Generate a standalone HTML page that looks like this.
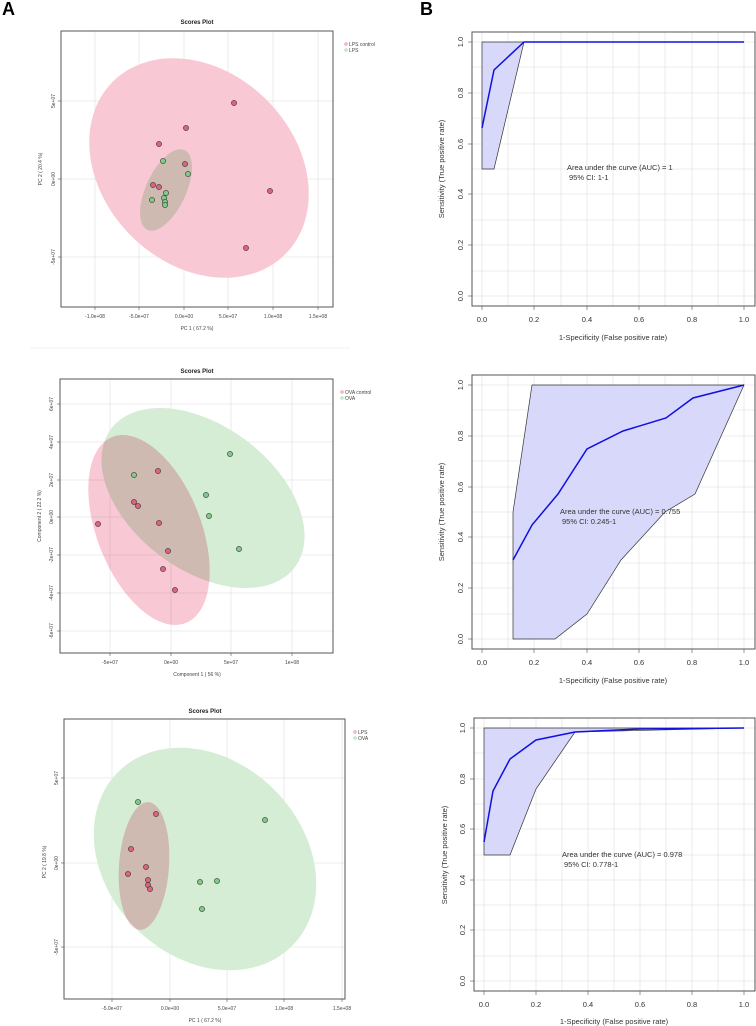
<!DOCTYPE html>
<html><head><meta charset="utf-8"><style>
html,body{margin:0;padding:0;background:#fff;}
svg{display:block;font-family:"Liberation Sans",sans-serif;}
.g{stroke:#e6e6e6;stroke-width:0.8;fill:none}
.box{fill:none;stroke:#555;stroke-width:1}
.t{font-size:5px;fill:#444}
.rt{font-size:7.5px;fill:#333}
.ptp{fill:#e0627f;stroke:#333;stroke-width:0.6}
.ptg{fill:#7fcb88;stroke:#333;stroke-width:0.6}
.ci{fill:#d8d8fa;stroke:#333;stroke-width:0.7}
.cv{fill:none;stroke:#1010e0;stroke-width:1.5}
</style></head><body>
<svg width="756" height="1026" viewBox="0 0 756 1026">
<rect width="756" height="1026" fill="#fff"/>
<text x="2" y="15" font-size="18" font-weight="bold">A</text>
<text x="420" y="15" font-size="18" font-weight="bold">B</text>
<line x1="30" y1="348" x2="350" y2="348" stroke="#eee" stroke-width="0.8"/>

<!-- ===== A1 ===== -->
<g>
<text x="197" y="24" font-size="6" font-weight="bold" text-anchor="middle" fill="#222">Scores Plot</text>
<g class="g">
<line x1="95" y1="31" x2="95" y2="307"/><line x1="139" y1="31" x2="139" y2="307"/><line x1="184" y1="31" x2="184" y2="307"/><line x1="228" y1="31" x2="228" y2="307"/><line x1="273" y1="31" x2="273" y2="307"/><line x1="318" y1="31" x2="318" y2="307"/>
<line x1="61" y1="101" x2="333" y2="101"/><line x1="61" y1="179" x2="333" y2="179"/><line x1="61" y1="257" x2="333" y2="257"/>
</g>
<ellipse cx="199" cy="168" rx="122" ry="96" transform="rotate(45 199 168)" fill="#f8c9d5"/>
<ellipse cx="166" cy="190" rx="44" ry="20" transform="rotate(-65 166 190)" fill="#d5ecd5" style="mix-blend-mode:multiply"/>
<g class="ptp"><circle cx="234" cy="103" r="2.6"/><circle cx="186" cy="128" r="2.6"/><circle cx="159" cy="144" r="2.6"/><circle cx="185" cy="164" r="2.6"/><circle cx="153" cy="185" r="2.6"/><circle cx="159" cy="187" r="2.6"/><circle cx="270" cy="191" r="2.6"/><circle cx="246" cy="248" r="2.6"/></g>
<g class="ptg"><circle cx="163" cy="161" r="2.6"/><circle cx="188" cy="174" r="2.6"/><circle cx="166" cy="193" r="2.6"/><circle cx="152" cy="200" r="2.6"/><circle cx="164" cy="198" r="2.6"/><circle cx="165" cy="202" r="2.6"/><circle cx="165" cy="205" r="2.6"/></g>
<rect class="box" x="61" y="31" width="272" height="276"/>
<g stroke="#555" stroke-width="0.6"><line x1="95" y1="307" x2="95" y2="310"/><line x1="139" y1="307" x2="139" y2="310"/><line x1="184" y1="307" x2="184" y2="310"/><line x1="228" y1="307" x2="228" y2="310"/><line x1="273" y1="307" x2="273" y2="310"/><line x1="318" y1="307" x2="318" y2="310"/><line x1="58" y1="101" x2="61" y2="101"/><line x1="58" y1="179" x2="61" y2="179"/><line x1="58" y1="257" x2="61" y2="257"/></g>
<g class="t" text-anchor="middle"><text x="95" y="318">-1.0e+08</text><text x="139" y="318">-5.0e+07</text><text x="184" y="318">0.0e+00</text><text x="228" y="318">5.0e+07</text><text x="273" y="318">1.0e+08</text><text x="318" y="318">1.5e+08</text>
<text x="197" y="330">PC 1 ( 67.2 %)</text>
<text transform="translate(55 101) rotate(-90)">5e+07</text><text transform="translate(55 179) rotate(-90)">0e+00</text><text transform="translate(55 257) rotate(-90)">-5e+07</text>
<text transform="translate(42 169) rotate(-90)">PC 2 ( 20.4 %)</text></g>
<circle cx="346" cy="44" r="1.2" fill="none" stroke="#e0627f" stroke-width="0.6"/><circle cx="346" cy="50" r="1.2" fill="none" stroke="#7fcb88" stroke-width="0.6"/>
<text class="t" x="349" y="46">LPS control</text><text class="t" x="349" y="52">LPS</text>
</g>

<!-- ===== A2 ===== -->
<g>
<text x="197" y="373" font-size="6" font-weight="bold" text-anchor="middle" fill="#222">Scores Plot</text>
<g class="g">
<line x1="110" y1="379" x2="110" y2="653"/><line x1="171" y1="379" x2="171" y2="653"/><line x1="231" y1="379" x2="231" y2="653"/><line x1="292" y1="379" x2="292" y2="653"/>
<line x1="60" y1="404" x2="333" y2="404"/><line x1="60" y1="442" x2="333" y2="442"/><line x1="60" y1="480" x2="333" y2="480"/><line x1="60" y1="517" x2="333" y2="517"/><line x1="60" y1="555" x2="333" y2="555"/><line x1="60" y1="593" x2="333" y2="593"/><line x1="60" y1="631" x2="333" y2="631"/>
</g>
<ellipse cx="203" cy="498" rx="115" ry="72" transform="rotate(37 203 498)" fill="#d5ecd5"/>
<ellipse cx="149" cy="530" rx="100" ry="52" transform="rotate(68.5 149 530)" fill="#f8c9d5" style="mix-blend-mode:multiply"/>
<g class="ptg"><circle cx="230" cy="454" r="2.6"/><circle cx="134" cy="475" r="2.6"/><circle cx="206" cy="495" r="2.6"/><circle cx="209" cy="516" r="2.6"/><circle cx="239" cy="549" r="2.6"/></g>
<g class="ptp"><circle cx="158" cy="471" r="2.6"/><circle cx="134" cy="502" r="2.6"/><circle cx="138" cy="506" r="2.6"/><circle cx="159" cy="523" r="2.6"/><circle cx="98" cy="524" r="2.6"/><circle cx="168" cy="551" r="2.6"/><circle cx="163" cy="569" r="2.6"/><circle cx="175" cy="590" r="2.6"/></g>
<rect class="box" x="60" y="379" width="273" height="274"/>
<g stroke="#555" stroke-width="0.6"><line x1="110" y1="653" x2="110" y2="656"/><line x1="171" y1="653" x2="171" y2="656"/><line x1="231" y1="653" x2="231" y2="656"/><line x1="292" y1="653" x2="292" y2="656"/><line x1="57" y1="404" x2="60" y2="404"/><line x1="57" y1="442" x2="60" y2="442"/><line x1="57" y1="480" x2="60" y2="480"/><line x1="57" y1="517" x2="60" y2="517"/><line x1="57" y1="555" x2="60" y2="555"/><line x1="57" y1="593" x2="60" y2="593"/><line x1="57" y1="631" x2="60" y2="631"/></g>
<g class="t" text-anchor="middle"><text x="110" y="664">-5e+07</text><text x="171" y="664">0e+00</text><text x="231" y="664">5e+07</text><text x="292" y="664">1e+08</text>
<text x="197" y="676">Component 1 ( 56 %)</text>
<text transform="translate(53 404) rotate(-90)">6e+07</text><text transform="translate(53 442) rotate(-90)">4e+07</text><text transform="translate(53 480) rotate(-90)">2e+07</text><text transform="translate(53 517) rotate(-90)">0e+00</text><text transform="translate(53 555) rotate(-90)">-2e+07</text><text transform="translate(53 593) rotate(-90)">-4e+07</text><text transform="translate(53 631) rotate(-90)">-6e+07</text>
<text transform="translate(41 516) rotate(-90)">Component 2 ( 22.2 %)</text></g>
<circle cx="342" cy="392" r="1.2" fill="none" stroke="#e0627f" stroke-width="0.6"/><circle cx="342" cy="398" r="1.2" fill="none" stroke="#7fcb88" stroke-width="0.6"/>
<text class="t" x="345" y="394">OVA control</text><text class="t" x="345" y="400">OVA</text>
</g>

<!-- ===== A3 ===== -->
<g>
<text x="205" y="713" font-size="6" font-weight="bold" text-anchor="middle" fill="#222">Scores Plot</text>
<g class="g">
<line x1="112" y1="719" x2="112" y2="999"/><line x1="170" y1="719" x2="170" y2="999"/><line x1="227" y1="719" x2="227" y2="999"/><line x1="284" y1="719" x2="284" y2="999"/><line x1="342" y1="719" x2="342" y2="999"/>
<line x1="64" y1="778" x2="345" y2="778"/><line x1="64" y1="863" x2="345" y2="863"/><line x1="64" y1="947" x2="345" y2="947"/>
</g>
<ellipse cx="205" cy="859" rx="123" ry="98" transform="rotate(45 205 859)" fill="#d5ecd5"/>
<ellipse cx="144" cy="866" rx="64" ry="25" transform="rotate(-86 144 866)" fill="#f8c9d5" style="mix-blend-mode:multiply"/>
<g class="ptg"><circle cx="138" cy="802" r="2.6"/><circle cx="265" cy="820" r="2.6"/><circle cx="200" cy="882" r="2.6"/><circle cx="217" cy="881" r="2.6"/><circle cx="202" cy="909" r="2.6"/></g>
<g class="ptp"><circle cx="156" cy="814" r="2.6"/><circle cx="131" cy="849" r="2.6"/><circle cx="146" cy="867" r="2.6"/><circle cx="128" cy="874" r="2.6"/><circle cx="148" cy="880" r="2.6"/><circle cx="148" cy="885" r="2.6"/><circle cx="150" cy="889" r="2.6"/></g>
<rect class="box" x="64" y="719" width="281" height="280"/>
<g stroke="#555" stroke-width="0.6"><line x1="112" y1="999" x2="112" y2="1002"/><line x1="170" y1="999" x2="170" y2="1002"/><line x1="227" y1="999" x2="227" y2="1002"/><line x1="284" y1="999" x2="284" y2="1002"/><line x1="342" y1="999" x2="342" y2="1002"/><line x1="61" y1="778" x2="64" y2="778"/><line x1="61" y1="863" x2="64" y2="863"/><line x1="61" y1="947" x2="64" y2="947"/></g>
<g class="t" text-anchor="middle"><text x="112" y="1010">-5.0e+07</text><text x="170" y="1010">0.0e+00</text><text x="227" y="1010">5.0e+07</text><text x="284" y="1010">1.0e+08</text><text x="342" y="1010">1.5e+08</text>
<text x="205" y="1022">PC 1 ( 67.2 %)</text>
<text transform="translate(58 778) rotate(-90)">5e+07</text><text transform="translate(58 863) rotate(-90)">0e+00</text><text transform="translate(58 947) rotate(-90)">-5e+07</text>
<text transform="translate(46 862) rotate(-90)">PC 2 ( 19.8 %)</text></g>
<circle cx="355" cy="732" r="1.2" fill="none" stroke="#e0627f" stroke-width="0.6"/><circle cx="355" cy="738" r="1.2" fill="none" stroke="#7fcb88" stroke-width="0.6"/>
<text class="t" x="358" y="734">LPS</text><text class="t" x="358" y="740">OVA</text>
</g>

<!-- ===== B1 ===== -->
<g>
<g class="g">
<line x1="482" y1="32" x2="482" y2="306"/><line x1="508" y1="32" x2="508" y2="306"/><line x1="534" y1="32" x2="534" y2="306"/><line x1="561" y1="32" x2="561" y2="306"/><line x1="587" y1="32" x2="587" y2="306"/><line x1="613" y1="32" x2="613" y2="306"/><line x1="639" y1="32" x2="639" y2="306"/><line x1="665" y1="32" x2="665" y2="306"/><line x1="692" y1="32" x2="692" y2="306"/><line x1="718" y1="32" x2="718" y2="306"/><line x1="744" y1="32" x2="744" y2="306"/>
<line x1="472" y1="42" x2="755" y2="42"/><line x1="472" y1="67" x2="755" y2="67"/><line x1="472" y1="93" x2="755" y2="93"/><line x1="472" y1="118" x2="755" y2="118"/><line x1="472" y1="144" x2="755" y2="144"/><line x1="472" y1="169" x2="755" y2="169"/><line x1="472" y1="194" x2="755" y2="194"/><line x1="472" y1="220" x2="755" y2="220"/><line x1="472" y1="245" x2="755" y2="245"/><line x1="472" y1="271" x2="755" y2="271"/><line x1="472" y1="296" x2="755" y2="296"/>
</g>
<polygon class="ci" points="482,42 524,42 494,169 482,169"/>
<line x1="524" y1="42" x2="744" y2="42" stroke="#333" stroke-width="0.7"/>
<polyline class="cv" points="482,128 494,70 524,42 744,42"/>
<text class="rt" x="567" y="170">Area under the curve (AUC) = 1</text>
<text class="rt" x="569" y="180">95% CI: 1-1</text>
<rect class="box" x="472" y="32" width="283" height="274"/>
<g stroke="#555" stroke-width="0.6"><line x1="482" y1="306" x2="482" y2="310"/><line x1="534" y1="306" x2="534" y2="310"/><line x1="587" y1="306" x2="587" y2="310"/><line x1="639" y1="306" x2="639" y2="310"/><line x1="692" y1="306" x2="692" y2="310"/><line x1="744" y1="306" x2="744" y2="310"/><line x1="468" y1="42" x2="472" y2="42"/><line x1="468" y1="93" x2="472" y2="93"/><line x1="468" y1="144" x2="472" y2="144"/><line x1="468" y1="194" x2="472" y2="194"/><line x1="468" y1="245" x2="472" y2="245"/><line x1="468" y1="296" x2="472" y2="296"/></g>
<g class="rt" text-anchor="middle"><text x="482" y="322">0.0</text><text x="534" y="322">0.2</text><text x="587" y="322">0.4</text><text x="639" y="322">0.6</text><text x="692" y="322">0.8</text><text x="744" y="322">1.0</text>
<text x="613" y="340">1-Specificity (False positive rate)</text>
<text transform="translate(463 42) rotate(-90)">1.0</text><text transform="translate(463 93) rotate(-90)">0.8</text><text transform="translate(463 144) rotate(-90)">0.6</text><text transform="translate(463 194) rotate(-90)">0.4</text><text transform="translate(463 245) rotate(-90)">0.2</text><text transform="translate(463 296) rotate(-90)">0.0</text>
<text transform="translate(444 169) rotate(-90)">Sensitivity (True positive rate)</text></g>
</g>

<!-- ===== B2 ===== -->
<g>
<g class="g">
<line x1="482" y1="375" x2="482" y2="649"/><line x1="508" y1="375" x2="508" y2="649"/><line x1="534" y1="375" x2="534" y2="649"/><line x1="561" y1="375" x2="561" y2="649"/><line x1="587" y1="375" x2="587" y2="649"/><line x1="613" y1="375" x2="613" y2="649"/><line x1="639" y1="375" x2="639" y2="649"/><line x1="665" y1="375" x2="665" y2="649"/><line x1="692" y1="375" x2="692" y2="649"/><line x1="718" y1="375" x2="718" y2="649"/><line x1="744" y1="375" x2="744" y2="649"/>
<line x1="472" y1="385" x2="755" y2="385"/><line x1="472" y1="410" x2="755" y2="410"/><line x1="472" y1="436" x2="755" y2="436"/><line x1="472" y1="461" x2="755" y2="461"/><line x1="472" y1="487" x2="755" y2="487"/><line x1="472" y1="512" x2="755" y2="512"/><line x1="472" y1="537" x2="755" y2="537"/><line x1="472" y1="563" x2="755" y2="563"/><line x1="472" y1="588" x2="755" y2="588"/><line x1="472" y1="614" x2="755" y2="614"/><line x1="472" y1="639" x2="755" y2="639"/>
</g>
<polygon class="ci" points="513,512 532,385 744,385 695,494 665,512 621,560 587,614 555,639 513,639"/>
<polyline class="cv" points="513,560 532,525 558,494 587,449 623,431 666,418 693,398 744,385"/>
<text class="rt" x="560" y="514">Area under the curve (AUC) = 0.755</text>
<text class="rt" x="562" y="524">95% CI: 0.245-1</text>
<rect class="box" x="472" y="375" width="283" height="274"/>
<g stroke="#555" stroke-width="0.6"><line x1="482" y1="649" x2="482" y2="653"/><line x1="534" y1="649" x2="534" y2="653"/><line x1="587" y1="649" x2="587" y2="653"/><line x1="639" y1="649" x2="639" y2="653"/><line x1="692" y1="649" x2="692" y2="653"/><line x1="744" y1="649" x2="744" y2="653"/><line x1="468" y1="385" x2="472" y2="385"/><line x1="468" y1="436" x2="472" y2="436"/><line x1="468" y1="487" x2="472" y2="487"/><line x1="468" y1="537" x2="472" y2="537"/><line x1="468" y1="588" x2="472" y2="588"/><line x1="468" y1="639" x2="472" y2="639"/></g>
<g class="rt" text-anchor="middle"><text x="482" y="665">0.0</text><text x="534" y="665">0.2</text><text x="587" y="665">0.4</text><text x="639" y="665">0.6</text><text x="692" y="665">0.8</text><text x="744" y="665">1.0</text>
<text x="613" y="683">1-Specificity (False positive rate)</text>
<text transform="translate(463 385) rotate(-90)">1.0</text><text transform="translate(463 436) rotate(-90)">0.8</text><text transform="translate(463 487) rotate(-90)">0.6</text><text transform="translate(463 537) rotate(-90)">0.4</text><text transform="translate(463 588) rotate(-90)">0.2</text><text transform="translate(463 639) rotate(-90)">0.0</text>
<text transform="translate(444 512) rotate(-90)">Sensitivity (True positive rate)</text></g>
</g>

<!-- ===== B3 ===== -->
<g>
<g class="g">
<line x1="484" y1="718" x2="484" y2="991"/><line x1="510" y1="718" x2="510" y2="991"/><line x1="536" y1="718" x2="536" y2="991"/><line x1="562" y1="718" x2="562" y2="991"/><line x1="588" y1="718" x2="588" y2="991"/><line x1="614" y1="718" x2="614" y2="991"/><line x1="640" y1="718" x2="640" y2="991"/><line x1="666" y1="718" x2="666" y2="991"/><line x1="692" y1="718" x2="692" y2="991"/><line x1="718" y1="718" x2="718" y2="991"/><line x1="744" y1="718" x2="744" y2="991"/>
<line x1="474" y1="728" x2="755" y2="728"/><line x1="474" y1="753" x2="755" y2="753"/><line x1="474" y1="779" x2="755" y2="779"/><line x1="474" y1="804" x2="755" y2="804"/><line x1="474" y1="829" x2="755" y2="829"/><line x1="474" y1="855" x2="755" y2="855"/><line x1="474" y1="880" x2="755" y2="880"/><line x1="474" y1="905" x2="755" y2="905"/><line x1="474" y1="930" x2="755" y2="930"/><line x1="474" y1="956" x2="755" y2="956"/><line x1="474" y1="981" x2="755" y2="981"/>
</g>
<polygon class="ci" points="484,728 744,728 575,732 536,789 510,855 484,855"/>
<polyline class="cv" points="484,842 493,791 510,759 536,740 575,732 640,729 744,728"/>
<text class="rt" x="562" y="857">Area under the curve (AUC) = 0.978</text>
<text class="rt" x="564" y="867">95% CI: 0.778-1</text>
<rect class="box" x="474" y="718" width="281" height="273"/>
<g stroke="#555" stroke-width="0.6"><line x1="484" y1="991" x2="484" y2="995"/><line x1="536" y1="991" x2="536" y2="995"/><line x1="588" y1="991" x2="588" y2="995"/><line x1="640" y1="991" x2="640" y2="995"/><line x1="692" y1="991" x2="692" y2="995"/><line x1="744" y1="991" x2="744" y2="995"/><line x1="470" y1="728" x2="474" y2="728"/><line x1="470" y1="779" x2="474" y2="779"/><line x1="470" y1="829" x2="474" y2="829"/><line x1="470" y1="880" x2="474" y2="880"/><line x1="470" y1="930" x2="474" y2="930"/><line x1="470" y1="981" x2="474" y2="981"/></g>
<g class="rt" text-anchor="middle"><text x="484" y="1007">0.0</text><text x="536" y="1007">0.2</text><text x="588" y="1007">0.4</text><text x="640" y="1007">0.6</text><text x="692" y="1007">0.8</text><text x="744" y="1007">1.0</text>
<text x="614" y="1024">1-Specificity (False positive rate)</text>
<text transform="translate(465 728) rotate(-90)">1.0</text><text transform="translate(465 779) rotate(-90)">0.8</text><text transform="translate(465 829) rotate(-90)">0.6</text><text transform="translate(465 880) rotate(-90)">0.4</text><text transform="translate(465 930) rotate(-90)">0.2</text><text transform="translate(465 981) rotate(-90)">0.0</text>
<text transform="translate(447 855) rotate(-90)">Sensitivity (True positive rate)</text></g>
</g>
</svg>
</body></html>
